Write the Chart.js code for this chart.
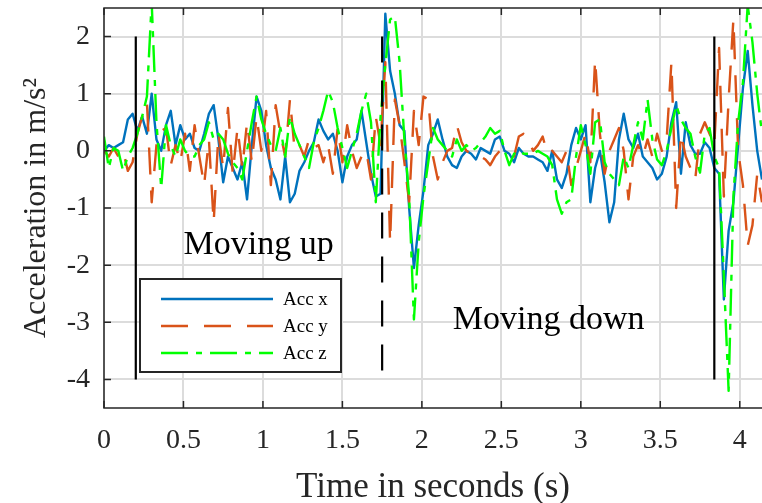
<!DOCTYPE html>
<html>
<head>
<meta charset="utf-8">
<script src="https://cdn.jsdelivr.net/npm/chart.js@4.4.0/dist/chart.umd.min.js"></script>
<style>
html,body{margin:0;padding:0;background:#fff;}
canvas{display:block;}
</style>
</head>
<body>
<canvas id="c" width="762" height="503"></canvas>
<script>
// ---------- data ----------
const time = [
0,0.03,0.06,0.09,0.12,0.15,0.18,0.21,0.24,0.27,
0.3,0.33,0.36,0.39,0.42,0.45,0.48,0.51,0.54,0.57,
0.6,0.63,0.66,0.69,0.72,0.75,0.78,0.81,0.84,0.87,
0.9,0.93,0.96,0.99,1.02,1.05,1.08,1.11,1.14,1.17,
1.2,1.23,1.26,1.29,1.32,1.35,1.38,1.41,1.44,1.47,
1.5,1.53,1.56,1.59,1.62,1.65,1.68,1.71,1.74,1.77,
1.8,1.83,1.86,1.89,1.92,1.95,1.98,2.01,2.04,2.07,
2.1,2.13,2.16,2.19,2.22,2.25,2.28,2.31,2.34,2.37,
2.4,2.43,2.46,2.49,2.52,2.55,2.58,2.61,2.64,2.67,
2.7,2.73,2.76,2.79,2.82,2.85,2.88,2.91,2.94,2.97,
3,3.03,3.06,3.09,3.12,3.15,3.18,3.21,3.24,3.27,
3.3,3.33,3.36,3.39,3.42,3.45,3.48,3.51,3.54,3.57,
3.6,3.63,3.66,3.69,3.72,3.75,3.78,3.81,3.84,3.87,
3.9,3.93,3.96,3.99,4.02,4.05,4.08,4.11,4.14
];

const accX = [
0.0,0.1,0.05,0.1,0.15,0.55,0.65,0.35,0.6,0.3,
1.0,0.2,0.0,0.45,0.7,0.1,0.45,0.2,0.3,0.05,
0.0,0.3,0.65,0.8,0.2,-0.55,-0.1,-0.3,-0.5,-0.2,
-0.85,0.1,0.95,0.7,0.1,-0.3,-0.5,-0.85,-0.1,-0.9,
-0.75,-0.35,-0.2,0.0,0.15,0.55,0.35,0.2,0.3,0.0,
-0.55,-0.1,0.1,0.2,0.7,0.15,-0.4,-0.8,-0.75,2.4,
1.4,1.0,0.45,0.35,-1.0,-2.05,-1.3,-0.7,0.1,0.3,
0.55,0.2,-0.1,-0.25,-0.3,-0.1,0.0,-0.05,-0.15,0.05,
0.0,-0.05,0.2,0.25,0.0,-0.05,-0.2,0.05,-0.05,-0.1,
-0.1,-0.15,-0.2,-0.35,0.0,-0.5,-0.65,-0.4,0.1,0.4,
0.2,0.45,-0.9,-0.3,0.0,-0.55,-1.25,-0.9,0.2,0.65,
0.2,0.05,0.3,-0.1,-0.2,-0.3,-0.5,-0.4,-0.1,0.5,
0.85,-0.4,0.5,0.1,-0.05,-0.05,0.15,0.05,-0.3,-0.4,
-2.6,-1.4,-0.9,0.1,1.1,1.75,0.8,0.0,-0.5
];

const accY = [
0.0,-0.1,0.05,-0.1,0.0,-0.35,-0.2,0.3,0.6,0.85,
-0.9,0.1,0.35,0.4,-0.25,0.1,-0.2,0.3,-0.35,0.45,
-0.1,-0.6,0.2,-1.25,0.3,-0.3,0.75,-0.4,0.4,-0.3,
0.5,-0.2,0.6,0.0,0.7,-0.6,0.8,0.3,-0.1,0.9,
0.0,0.1,-0.1,0.2,0.05,0.1,-0.2,0.1,-0.4,0.4,
-0.2,0.45,0.0,-0.3,-0.1,0.0,-0.5,0.6,0.1,1.55,
-1.6,0.9,0.45,-0.2,-0.9,0.7,0.1,0.95,0.9,-0.1,
-0.5,-0.2,0.0,0.05,0.45,0.15,0.0,-0.05,-0.05,-0.1,
-0.15,-0.25,-0.1,0.0,0.0,-0.05,-0.1,0.25,0.3,0.2,
0.0,0.1,0.25,-0.05,0.0,-0.1,-0.2,0.0,-0.6,-0.3,
0.0,0.3,-0.2,1.6,0.3,-0.4,0.0,0.2,0.4,0.0,
-0.85,-0.1,0.1,-0.1,0.2,-0.1,0.3,0.0,0.2,1.55,
-1.0,0.3,-0.1,-0.3,-0.5,0.3,0.5,0.3,0.1,1.8,
-0.8,0.9,2.3,0.0,-0.6,-1.66,-1.3,-0.4,-0.9
];

const accZ = [
0.25,-0.3,0.05,0.0,-0.35,-0.1,0.05,0.3,0.6,0.95,
2.6,0.5,-0.65,0.45,0.1,-0.1,0.2,0.0,-0.1,-0.1,
0.1,0.2,0.5,0.2,0.3,0.2,-0.05,-0.2,-0.3,-0.5,
0.0,0.5,0.95,0.55,0.3,0.1,0.0,0.4,-0.1,0.6,
0.3,0.1,-0.1,-0.3,0.15,0.4,0.7,1.05,0.85,0.4,
0.05,-0.3,0.0,0.3,0.7,1.0,0.5,-0.9,0.6,1.5,
2.3,2.35,1.55,0.2,-0.8,-2.95,-1.6,-0.8,-0.2,0.4,
0.2,0.1,0.0,-0.1,0.2,0.0,0.1,0.0,0.05,0.15,
0.25,0.4,0.3,0.35,0.0,-0.25,-0.05,0.0,-0.05,-0.05,
-0.05,0.0,-0.05,-0.1,-0.25,-0.85,-1.1,-0.9,-0.85,-0.1,
0.45,0.1,-0.4,0.5,0.55,-0.2,-0.4,-0.5,-0.6,-0.1,
-0.3,0.1,0.5,0.2,0.9,0.2,-0.15,-0.25,0.0,0.4,
0.8,0.55,0.4,0.3,-0.1,-0.38,0.3,0.4,-0.1,-0.3,
-2.2,-4.2,-0.8,0.5,1.2,2.55,1.9,1.0,0.3
];

const seriesNames = ['Acc x', 'Acc y', 'Acc z'];
const phaseMarkTimes = [0.2, 1.75, 3.84];
const phaseMarkSpan = [-4, 2];
const phaseNames = ['Moving up', 'Moving down'];
const phaseNameAt = [[0.5, -1.81], [2.195, -3.12]];

const xTicks = [0, 0.5, 1, 1.5, 2, 2.5, 3, 3.5, 4];
const xTickLabels = ['0', '0.5', '1', '1.5', '2', '2.5', '3', '3.5', '4'];
const yTicks = [-4, -3, -2, -1, 0, 1, 2];
const yTickLabels = ['-4', '-3', '-2', '-1', '0', '1', '2'];

// ---------- styles ----------
const SERIF = '"Liberation Serif", "Times New Roman", serif';
const AXIS = '#262626';
const GRID = '#dcdcdc';
const colors = ['#0072BD', '#D95319', '#00FF00'];
const dashes = [[], [27, 16], [27, 8, 6, 8]];

const toPts = arr => time.map((t, i) => ({x: t, y: arr[i]}));
const seriesData = [accX, accY, accZ];

const datasets = seriesData.map((arr, k) => ({
  label: seriesNames[k],
  data: toPts(arr),
  borderColor: colors[k],
  borderWidth: 2.4,
  borderDash: dashes[k],
  borderJoinStyle: 'round',
  pointRadius: 0,
  tension: 0,
  fill: false,
  order: 3 - k
}));

phaseMarkTimes.forEach((t, k) => {
  datasets.push({
    label: 'mark' + k,
    data: [{x: t, y: phaseMarkSpan[1]}, {x: t, y: phaseMarkSpan[0]}],
    borderColor: '#000000',
    borderWidth: 2.2,
    borderDash: k === 1 ? [26, 18] : [],
    pointRadius: 0,
    tension: 0,
    fill: false,
    order: 0
  });
});

const decor = {
  id: 'decor',
  afterDatasetsDraw(chart) {
    const {ctx, chartArea: a, scales: {x, y}} = chart;
    ctx.save();
    // phase names
    ctx.fillStyle = '#000000';
    ctx.font = '34px ' + SERIF;
    ctx.textAlign = 'left';
    ctx.textBaseline = 'alphabetic';
    phaseNames.forEach((s, k) => {
      ctx.fillText(s, x.getPixelForValue(phaseNameAt[k][0]), y.getPixelForValue(phaseNameAt[k][1]));
    });
    // axes lines
    ctx.strokeStyle = AXIS;
    ctx.lineWidth = 1.5;
    ctx.setLineDash([]);
    ctx.beginPath();
    ctx.moveTo(a.right, a.top); ctx.lineTo(a.left, a.top);
    ctx.lineTo(a.left, a.bottom); ctx.lineTo(a.right, a.bottom);
    ctx.stroke();
    // inward ticks
    ctx.beginPath();
    xTicks.forEach(v => {
      const px = x.getPixelForValue(v);
      ctx.moveTo(px, a.bottom); ctx.lineTo(px, a.bottom - 7);
      ctx.moveTo(px, a.top); ctx.lineTo(px, a.top + 7);
    });
    yTicks.forEach(v => {
      const py = y.getPixelForValue(v);
      ctx.moveTo(a.left, py); ctx.lineTo(a.left + 7, py);
    });
    ctx.stroke();
    // legend box
    const bx = a.left + 36, by = a.top + 271, bw = 201, bh = 93;
    ctx.fillStyle = '#ffffff';
    ctx.fillRect(bx, by, bw, bh);
    ctx.strokeStyle = AXIS;
    ctx.lineWidth = 2;
    ctx.strokeRect(bx, by, bw, bh);
    ctx.font = '19px ' + SERIF;
    ctx.textBaseline = 'middle';
    ctx.textAlign = 'left';
    seriesNames.forEach((name, k) => {
      const ly = by + 20 + k * 27;
      ctx.strokeStyle = colors[k];
      ctx.lineWidth = 2.4;
      ctx.setLineDash(dashes[k]);
      ctx.beginPath();
      ctx.moveTo(bx + 21, ly); ctx.lineTo(bx + 133, ly);
      ctx.stroke();
      ctx.setLineDash([]);
      ctx.fillStyle = '#000000';
      ctx.fillText(name, bx + 143, ly + 1);
    });
    ctx.restore();
  }
};

new Chart(document.getElementById('c'), {
  type: 'line',
  data: {datasets},
  options: {
    responsive: false,
    animation: false,
    devicePixelRatio: 1,
    layout: {padding: {top: 8, right: 0, left: 0, bottom: 0}},
    plugins: {legend: {display: false}, tooltip: {enabled: false}},
    scales: {
      x: {
        type: 'linear',
        min: 0, max: 4.14,
        afterBuildTicks: s => { s.ticks = xTicks.map(v => ({value: v})); },
        afterFit: s => { s.height = 95; s.paddingLeft = 0; s.paddingRight = 0; s.paddingTop = 0; s.paddingBottom = 0; },
        grid: {color: GRID, lineWidth: 2, drawTicks: false},
        border: {display: false},
        ticks: {
          color: AXIS, padding: 16, maxRotation: 0, autoSkip: false,
          font: {family: SERIF, size: 28},
          callback: v => xTickLabels[xTicks.indexOf(v)]
        },
        title: {display: true, text: 'Time in seconds (s)', color: AXIS,
          font: {family: SERIF, size: 35}, padding: {top: 0, bottom: -6}}
      },
      y: {
        type: 'linear',
        min: -4.5, max: 2.5,
        afterBuildTicks: s => { s.ticks = yTicks.map(v => ({value: v})); },
        afterFit: s => { s.width = 104; s.paddingLeft = 0; s.paddingRight = 0; s.paddingTop = 0; s.paddingBottom = 0; },
        grid: {color: GRID, lineWidth: 2, drawTicks: false},
        border: {display: false},
        ticks: {
          color: AXIS, padding: 14, autoSkip: false,
          font: {family: SERIF, size: 28},
          callback: v => yTickLabels[yTicks.indexOf(v)]
        },
        title: {display: true, text: 'Acceleration in m/s\u00B2', color: AXIS,
          font: {family: SERIF, size: 32}, padding: {top: 17, bottom: 0}}
      }
    }
  },
  plugins: [decor]
});
</script>
</body>
</html>
